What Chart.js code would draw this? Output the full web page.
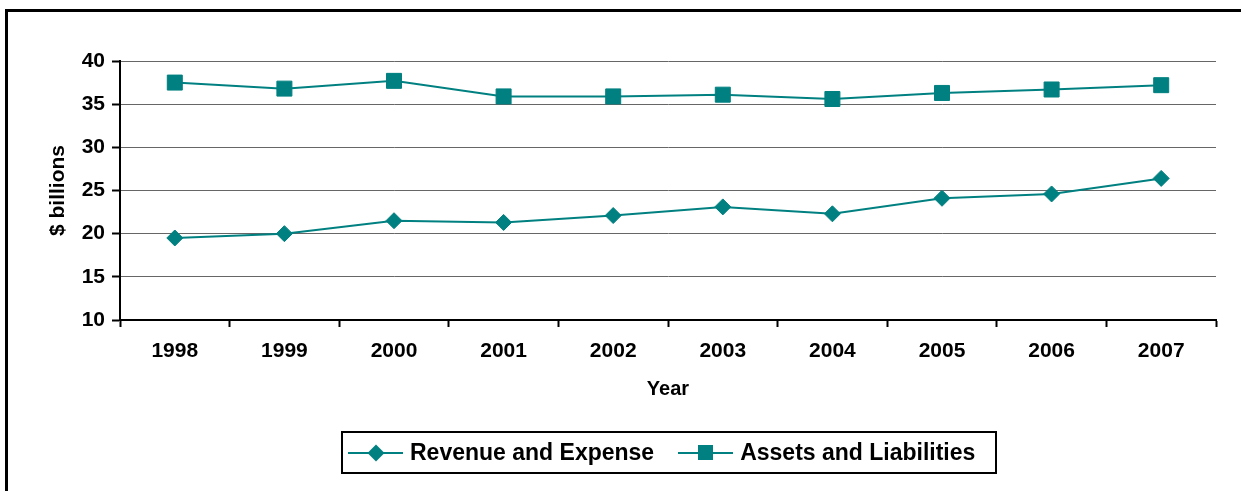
<!DOCTYPE html>
<html>
<head>
<meta charset="utf-8">
<script src="https://cdn.jsdelivr.net/npm/chart.js@4/dist/chart.umd.min.js"></script>
<style>
  body { margin: 0; background: #fff; font-family: "Liberation Sans", Arial, sans-serif; }
  #wrap { position: relative; width: 1241px; height: 491px; overflow: hidden; }
  #frame { position: absolute; left: 5px; top: 9px; width: 1300px; height: 600px;
           border-left: 3px solid #000; border-top: 3px solid #000; }
  canvas { position: absolute; left: 0; top: 0; }
  #legend { position: absolute; left: 341px; top: 431px; width: 652px; height: 39px;
            border: 2px solid #000; display: flex; align-items: center; }
  .item { display: flex; align-items: center; font-weight: bold; font-size: 23px; color: #000; }
  .sw { position: relative; width: 55px; height: 20px; margin-right: 7px; }
  .sw .ln { position: absolute; left: 0; right: 0; top: 9px; height: 2px; }
  .sw .mk { position: absolute; }
</style>
</head>
<body>
<div id="wrap">
  <div id="frame"></div>
  <canvas id="chart" width="1241" height="491"></canvas>
  <div id="legend"></div>
</div>
<script>
// data
const years = ["1998", "1999", "2000", "2001", "2002", "2003", "2004", "2005", "2006", "2007"];
const revenueExpense = [19.5, 20.0, 21.5, 21.3, 22.1, 23.1, 22.3, 24.1, 24.6, 26.4];
const assetsLiabilities = [37.5, 36.8, 37.7, 35.9, 35.9, 36.1, 35.6, 36.3, 36.7, 37.2];
const seriesNames = ["Revenue and Expense", "Assets and Liabilities"];
const yMin = 10, yMax = 40, yStep = 5;

const teal = "#008080";
const font = "'Liberation Sans', Arial, sans-serif";

const ctx = document.getElementById("chart").getContext("2d");
const chart = new Chart(ctx, {
  type: "line",
  data: {
    labels: years,
    datasets: [
      {
        label: seriesNames[0],
        data: revenueExpense,
        borderColor: teal,
        backgroundColor: teal,
        borderWidth: 2,
        pointStyle: "rectRot",
        pointRadius: 8,
        pointBorderWidth: 1,
        tension: 0
      },
      {
        label: seriesNames[1],
        data: assetsLiabilities,
        borderColor: teal,
        backgroundColor: teal,
        borderWidth: 2,
        pointStyle: "rect",
        pointRadius: 10.6,
        pointBorderWidth: 1,
        tension: 0
      }
    ]
  },
  options: {
    responsive: false,
    animation: false,
    layout: { padding: { left: 42, top: 61, right: 25, bottom: 86 } },
    plugins: { legend: { display: false }, tooltip: { enabled: false } },
    scales: {
      x: {
        offset: true,
        grid: { offset: true, drawOnChartArea: false, drawTicks: true, tickLength: 7, tickColor: "#000", tickWidth: 2 },
        border: { color: "#000", width: 2 },
        ticks: { color: "#000", padding: 12, font: { family: font, size: 21, weight: "bold" } },
        title: { display: true, text: "Year", color: "#000",
                 font: { family: font, size: 20, weight: "bold" }, padding: { top: 12, bottom: 4 } },
        afterFit: (s) => { s.height = 85; }
      },
      y: {
        min: yMin,
        max: yMax,
        grid: { color: "#666", lineWidth: 1, tickLength: 8, tickColor: "#000", tickWidth: 2 },
        border: { color: "#000", width: 2 },
        ticks: { stepSize: yStep, color: "#000", padding: 7, font: { family: font, size: 21, weight: "bold" } },
        title: { display: true, text: "$ billions", color: "#000",
                 font: { family: font, size: 21, weight: "bold" }, padding: { top: 4, bottom: 4 } },
        afterFit: (s) => { s.width = 78; }
      }
    }
  }
});

// legend box built from the datasets
const legend = document.getElementById("legend");
chart.data.datasets.forEach((ds, i) => {
  const item = document.createElement("div");
  item.className = "item";
  item.style.marginLeft = i === 0 ? "5px" : "24px";
  const sw = document.createElement("div");
  sw.className = "sw";
  const ln = document.createElement("div");
  ln.className = "ln";
  ln.style.background = ds.borderColor;
  const mk = document.createElement("div");
  mk.className = "mk";
  mk.style.background = ds.backgroundColor;
  if (ds.pointStyle === "rectRot") {
    mk.style.width = "12px"; mk.style.height = "12px";
    mk.style.left = "21.5px"; mk.style.top = "4px";
    mk.style.transform = "rotate(45deg)";
  } else {
    mk.style.width = "15px"; mk.style.height = "15px";
    mk.style.left = "20px"; mk.style.top = "2.5px";
  }
  sw.appendChild(ln);
  sw.appendChild(mk);
  const txt = document.createElement("span");
  txt.textContent = ds.label;
  item.appendChild(sw);
  item.appendChild(txt);
  legend.appendChild(item);
});
</script>
</body>
</html>
